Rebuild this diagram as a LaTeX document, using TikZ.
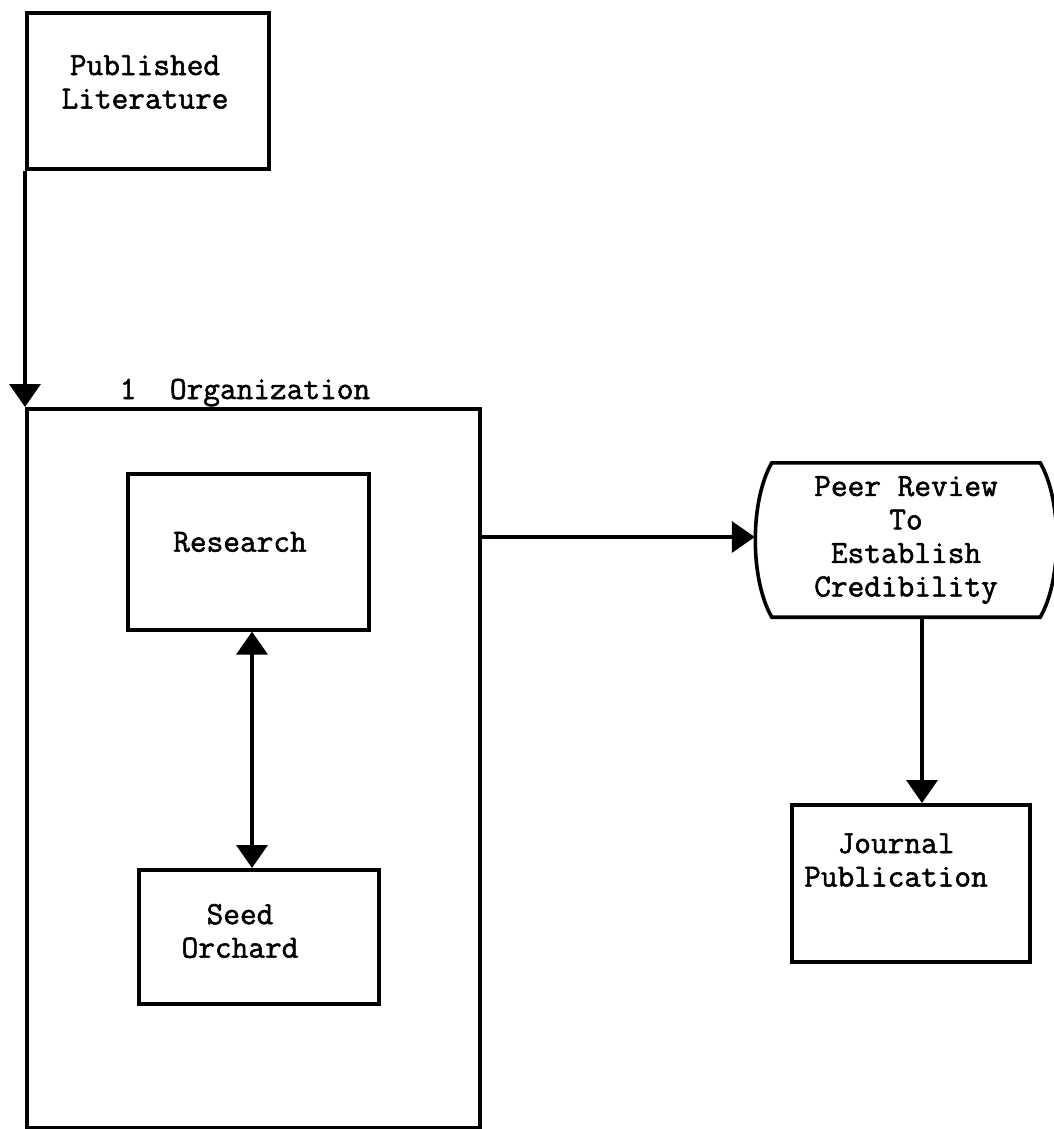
\documentclass[tikz,border=0pt]{standalone}
\usepackage{fontspec}
\setmonofont{Latin Modern Mono}[FakeBold=1.6]
\usetikzlibrary{arrows.meta,calc}
\begin{document}
\begin{tikzpicture}[x=1pt,y=-1pt,
  every node/.style={font=\ttfamily\bfseries\fontsize{32.4}{33.5}\selectfont},
  box/.style={draw, line width=3.6pt, inner sep=0pt, anchor=north west},
  txt/.style={align=center, inner sep=0pt},
  conn/.style={line width=3.6pt, -{Triangle[length=23pt,width=31pt]}},
  dconn/.style={line width=3.6pt, {Triangle[length=23pt,width=31pt]}-{Triangle[length=23pt,width=31pt]}},
  shapeline/.style={line width=3.6pt}]
\useasboundingbox (0,0) rectangle (1054,1129);
% boxes
\node[box, minimum width=242pt, minimum height=156pt] (pub) at (25,11) {};
\node[txt] (pubtext) at (145,82) {Published\\Literature};
\node[box, minimum width=453pt, minimum height=719pt] (org) at (25,407) {};
\node[txt, anchor=base] (orglabel) at (245,399) {1~~Organization};
\node[box, minimum width=241pt, minimum height=156pt] (research) at (126,472) {};
\node[txt] (researchtext) at (240,542) {Research};
\node[box, minimum width=240pt, minimum height=134pt] (seed) at (137,868) {};
\node[txt] (seedtext) at (240,931) {Seed\\Orchard};
\node[box, minimum width=238pt, minimum height=157pt] (journal) at (790,803) {};
\node[txt] (journaltext) at (896,860) {Journal\\Publication};
% peer review shape
\node[txt, minimum width=302pt, minimum height=154pt] (peer) at (906,540) {Peer Review\\To\\Establish\\Credibility};
\draw[shapeline] ($(peer.north west)+(17,0)$) -- ($(peer.north east)+(-17,0)$)
  .. controls ($(peer.north east)+(5,38)$) and ($(peer.south east)+(5,-38)$) .. ($(peer.south east)+(-17,0)$)
  -- ($(peer.south west)+(17,0)$)
  .. controls ($(peer.south west)+(-5,-38)$) and ($(peer.north west)+(-5,38)$) .. cycle;
% connectors
\coordinate (ax) at (252,0);
\coordinate (jx) at (922,0);
\coordinate (hy) at (0,537);
\draw[conn] (pub.south west) -- (org.north west);
\draw[conn] (org.east |- hy) -- (peer.west |- hy);
\draw[dconn] (research.south -| ax) -- (seed.north -| ax);
\draw[conn] (peer.south -| jx) -- (journal.north -| jx);
\end{tikzpicture}
\end{document}
